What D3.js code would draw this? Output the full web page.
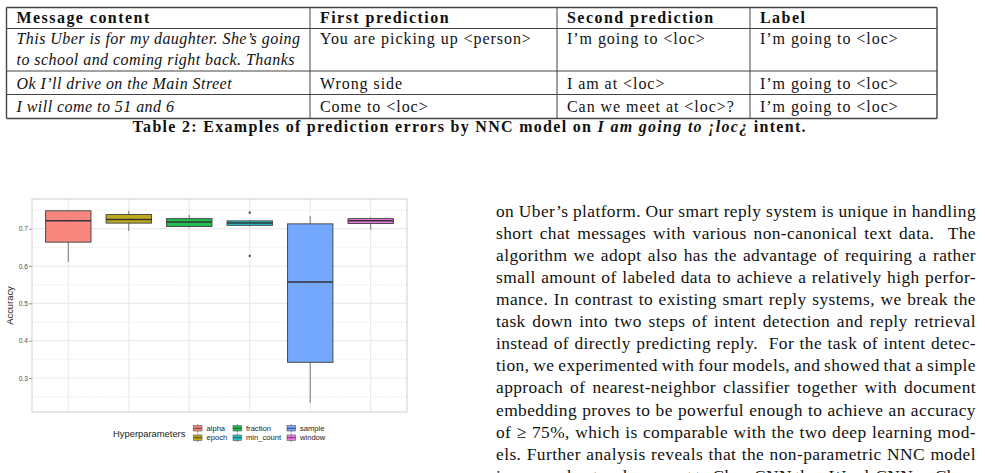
<!DOCTYPE html>
<html>
<head>
<meta charset="utf-8">
<script src="https://cdn.jsdelivr.net/npm/d3@7"></script>
<style>
  body { margin: 0; background: #fff; }
  svg { display: block; }
</style>
</head>
<body>
<div id="page"></div>
<script>
// ---- table data
var tableHeader = ["Message content", "First prediction", "Second prediction", "Label"];
var messageContent = [
  ["This Uber is for my daughter. She\u2019s going", "to school and coming right back. Thanks"],
  ["Ok I\u2019ll drive on the Main Street"],
  ["I will come to 51 and 6"]
];
var firstPrediction = ["You are picking up <person>", "Wrong side", "Come to <loc>"];
var secondPrediction = ["I\u2019m going to <loc>", "I am at <loc>", "Can we meet at <loc>?"];
var labels = ["I\u2019m going to <loc>", "I\u2019m going to <loc>", "I\u2019m going to <loc>"];
var captionBold = "Table 2: Examples of prediction errors by NNC model on ";
var captionItalic = "I am going to \u00a1loc\u00bf";
var captionEnd = " intent.";

// ---- boxplot data (accuracy per hyperparameter)
var categories = ["alpha", "epoch", "fraction", "min_count", "sample", "window"];
var whiskerLow  = [0.611, 0.694, 0.703, 0.706, 0.234, 0.697];
var q1          = [0.664, 0.715, 0.706, 0.709, 0.342, 0.714];
var median      = [0.721, 0.725, 0.718, 0.715, 0.557, 0.721];
var q3          = [0.748, 0.738, 0.727, 0.721, 0.713, 0.727];
var whiskerHigh = [0.750, 0.748, 0.737, 0.723, 0.734, 0.731];
var outliers    = [[], [], [], [0.743, 0.627], [], []];
var yTicks = [0.3, 0.4, 0.5, 0.6, 0.7];
var yMinor = [0.25, 0.35, 0.45, 0.55, 0.65, 0.75];

// ---- body text, one entry per printed line
var paragraphLines = [
  "on Uber\u2019s platform. Our smart reply system is unique in handling",
  "short chat messages with various non-canonical text data.  The",
  "algorithm we adopt also has the advantage of requiring a rather",
  "small amount of labeled data to achieve a relatively high perfor-",
  "mance. In contrast to existing smart reply systems, we break the",
  "task down into two steps of intent detection and reply retrieval",
  "instead of directly predicting reply.  For the task of intent detec-",
  "tion, we experimented with four models, and showed that a simple",
  "approach of nearest-neighbor classifier together with document",
  "embedding proves to be powerful enough to achieve an accuracy",
  "of \u2265 75%, which is comparable with the two deep learning mod-",
  "els. Further analysis reveals that the non-parametric NNC model",
  "is more robust and compact to Char-CNN than Word-CNN or Char-"
];

var W = 985, H = 473;
var svg = d3.select("#page").append("svg")
  .attr("width", W)
  .attr("height", H);

var serif = "'Liberation Serif', 'Times New Roman', serif";
var sans = "'Liberation Sans', Arial, sans-serif";

// ================= table =================
var colX = [6.5, 310, 557, 750, 937];
var rowY = [7.5, 28.5, 71, 94.5, 118.5];
var rowBase = [0, 15.5, 17.5, 17.5];
var table = svg.append("g").attr("font-family", serif).attr("font-size", 16)
  .style("letter-spacing", "0.95px").attr("fill", "#111");

// grid lines
table.selectAll("line.h").data(rowY).enter().append("line")
  .attr("x1", colX[0]).attr("x2", colX[4])
  .attr("y1", function (d) { return d; }).attr("y2", function (d) { return d; })
  .attr("stroke", "#444").attr("stroke-width", function (d, i) { return (i == 0 || i == rowY.length - 1) ? 1.4 : 1; });
table.selectAll("line.v").data(colX).enter().append("line")
  .attr("x1", function (d) { return d; }).attr("x2", function (d) { return d; })
  .attr("y1", rowY[0]).attr("y2", rowY[4])
  .attr("stroke", "#444").attr("stroke-width", function (d, i) { return (i == 0 || i == colX.length - 1) ? 1.4 : 1; });

// header
table.selectAll("text.head").data(tableHeader).enter().append("text")
  .attr("x", function (d, i) { return colX[i] + 10; })
  .attr("y", rowY[0] + 15)
  .attr("font-weight", "bold")
  .style("letter-spacing", "1.45px")
  .text(function (d) { return d; });

// body rows
for (let r = 0; r < messageContent.length; r++) {
  var base = rowY[r + 1] + rowBase[r + 1];
  messageContent[r].forEach(function (line, k) {
    table.append("text").attr("x", colX[0] + 10).attr("y", base + k * 21)
      .attr("font-style", "italic").style("letter-spacing", "0.45px").text(line);
  });
  [firstPrediction[r], secondPrediction[r], labels[r]].forEach(function (t, c) {
    table.append("text").attr("x", colX[c + 1] + 10).attr("y", base).text(t);
  });
}

// caption
var cap = svg.append("text")
  .attr("x", (colX[0] + colX[4]) / 2 - 2)
  .attr("y", 132)
  .attr("text-anchor", "middle")
  .attr("font-family", serif)
  .attr("font-size", 16)
  .style("letter-spacing", "1.3px")
  .attr("font-weight", "bold")
  .attr("fill", "#111");
cap.append("tspan").text(captionBold);
cap.append("tspan").attr("font-style", "italic").text(captionItalic);
cap.append("tspan").text(captionEnd);

// ================= boxplot =================
var panel = { left: 32, right: 407, top: 199, bottom: 412 };
var unit = (panel.right - panel.left) / (categories.length + 0.2);

var x = d3.scalePoint()
  .domain(categories)
  .range([panel.left + 0.6 * unit, panel.right - 0.6 * unit]);
var y = d3.scaleLinear()
  .domain([0.2089, 0.7796])
  .range([panel.bottom, panel.top]);
var color = d3.scaleOrdinal()
  .domain(categories)
  .range(["#F8766D", "#B79F00", "#00BA38", "#00BFC4", "#619CFF", "#F564E3"]);
var boxW = 0.75 * unit;

var chart = svg.append("g");

chart.append("rect")
  .attr("x", panel.left).attr("y", panel.top)
  .attr("width", panel.right - panel.left).attr("height", panel.bottom - panel.top)
  .attr("fill", "#fff");

// minor grid (dotted)
chart.selectAll("line.minor").data(yMinor).enter().append("line")
  .attr("x1", panel.left).attr("x2", panel.right)
  .attr("y1", function (d) { return y(d); }).attr("y2", function (d) { return y(d); })
  .attr("stroke", "#d6d6d6").attr("stroke-width", 0.7).attr("stroke-dasharray", "1,1.6");

// major grid
chart.selectAll("line.major").data(yTicks).enter().append("line")
  .attr("x1", panel.left).attr("x2", panel.right)
  .attr("y1", function (d) { return y(d); }).attr("y2", function (d) { return y(d); })
  .attr("stroke", "#ebebeb").attr("stroke-width", 1.2);
chart.selectAll("line.vgrid").data(categories).enter().append("line")
  .attr("x1", function (d) { return x(d); }).attr("x2", function (d) { return x(d); })
  .attr("y1", panel.top).attr("y2", panel.bottom)
  .attr("stroke", "#ebebeb").attr("stroke-width", 1.2);

// y axis
var yAxis = chart.append("g")
  .attr("transform", "translate(" + panel.left + ",0)")
  .call(d3.axisLeft(y).tickValues(yTicks).tickFormat(d3.format(".1f")).tickSize(2.7).tickPadding(1.5));
yAxis.select(".domain").remove();
yAxis.selectAll(".tick line").attr("stroke", "#333").attr("stroke-width", 0.6);
yAxis.selectAll(".tick text").attr("font-family", sans).attr("font-size", 6.6).attr("fill", "#4d4d4d");

// boxes
var boxes = chart.selectAll("g.box").data(categories).enter().append("g")
  .attr("class", "box");

boxes.append("line")
  .attr("x1", function (d) { return x(d); }).attr("x2", function (d) { return x(d); })
  .attr("y1", function (d, i) { return y(whiskerHigh[i]); })
  .attr("y2", function (d, i) { return y(q3[i]); })
  .attr("stroke", "#555").attr("stroke-width", 0.8);
boxes.append("line")
  .attr("x1", function (d) { return x(d); }).attr("x2", function (d) { return x(d); })
  .attr("y1", function (d, i) { return y(q1[i]); })
  .attr("y2", function (d, i) { return y(whiskerLow[i]); })
  .attr("stroke", "#555").attr("stroke-width", 0.8);

boxes.append("rect")
  .attr("x", function (d) { return x(d) - boxW / 2; })
  .attr("y", function (d, i) { return y(q3[i]); })
  .attr("width", boxW)
  .attr("height", function (d, i) { return y(q1[i]) - y(q3[i]); })
  .attr("fill", function (d) { return color(d); })
  .attr("fill-opacity", 0.88)
  .attr("stroke", "#4a4a4a").attr("stroke-width", 1);

boxes.append("line")
  .attr("x1", function (d) { return x(d) - boxW / 2; })
  .attr("x2", function (d) { return x(d) + boxW / 2; })
  .attr("y1", function (d, i) { return y(median[i]); })
  .attr("y2", function (d, i) { return y(median[i]); })
  .attr("stroke", "#333").attr("stroke-width", 1.5);

boxes.each(function (d, i) {
  d3.select(this).selectAll("circle").data(outliers[i]).enter().append("circle")
    .attr("cx", x(d)).attr("cy", function (v) { return y(v); })
    .attr("r", 1.1).attr("fill", "#333");
});

// panel border
chart.append("rect")
  .attr("x", panel.left).attr("y", panel.top)
  .attr("width", panel.right - panel.left).attr("height", panel.bottom - panel.top)
  .attr("fill", "none").attr("stroke", "#cfcfcf").attr("stroke-width", 1);

// y label
chart.append("text")
  .attr("transform", "translate(13," + ((panel.top + panel.bottom) / 2) + ") rotate(-90)")
  .attr("text-anchor", "middle")
  .attr("font-family", sans).attr("font-size", 9.4).attr("fill", "#222")
  .text("Accuracy");

// legend
var legend = chart.append("g").attr("font-family", sans);
legend.append("text")
  .attr("x", 113).attr("y", 436.7)
  .attr("font-size", 9.4).attr("fill", "#222")
  .text("Hyperparameters");
var legX = [193.5, 233, 287], legY = [428.3, 437.7];
var keys = legend.selectAll("g.key").data(categories).enter().append("g")
  .attr("transform", function (d, i) {
    return "translate(" + legX[Math.floor(i / 2)] + "," + legY[i % 2] + ")";
  });
keys.append("line").attr("x1", 4.25).attr("x2", 4.25).attr("y1", -4.3).attr("y2", 4.3)
  .attr("stroke", "#555").attr("stroke-width", 0.6);
keys.append("rect").attr("x", 0).attr("y", -2.7).attr("width", 8.5).attr("height", 5.4)
  .attr("fill", function (d) { return color(d); }).attr("fill-opacity", 0.88)
  .attr("stroke", "#555").attr("stroke-width", 0.6);
keys.append("line").attr("x1", 0).attr("x2", 8.5).attr("y1", 0).attr("y2", 0)
  .attr("stroke", "#333").attr("stroke-width", 0.8);
keys.append("text").attr("x", 13).attr("y", 2.6)
  .attr("font-size", 7.6).attr("fill", "#222")
  .text(function (d) { return d; });

// ================= paragraph (justified) =================
var textLeft = 496, textRight = 976, firstBase = 217, lineGap = 22.06;
var para = svg.append("g").attr("font-family", serif).attr("font-size", 17.4)
  .style("letter-spacing", "0.42px").attr("fill", "#111");
paragraphLines.forEach(function (line, i) {
  var t = para.append("text")
    .attr("x", textLeft)
    .attr("y", firstBase + i * lineGap)
    .attr("xml:space", "preserve")
    .style("white-space", "pre")
    .text(line);
  var natural = t.node().getComputedTextLength();
  var gaps = line.split(" ").length - 1;
  if (gaps > 0) t.style("word-spacing", (((textRight - textLeft) - natural) / gaps) + "px");
});
</script>
</body>
</html>
